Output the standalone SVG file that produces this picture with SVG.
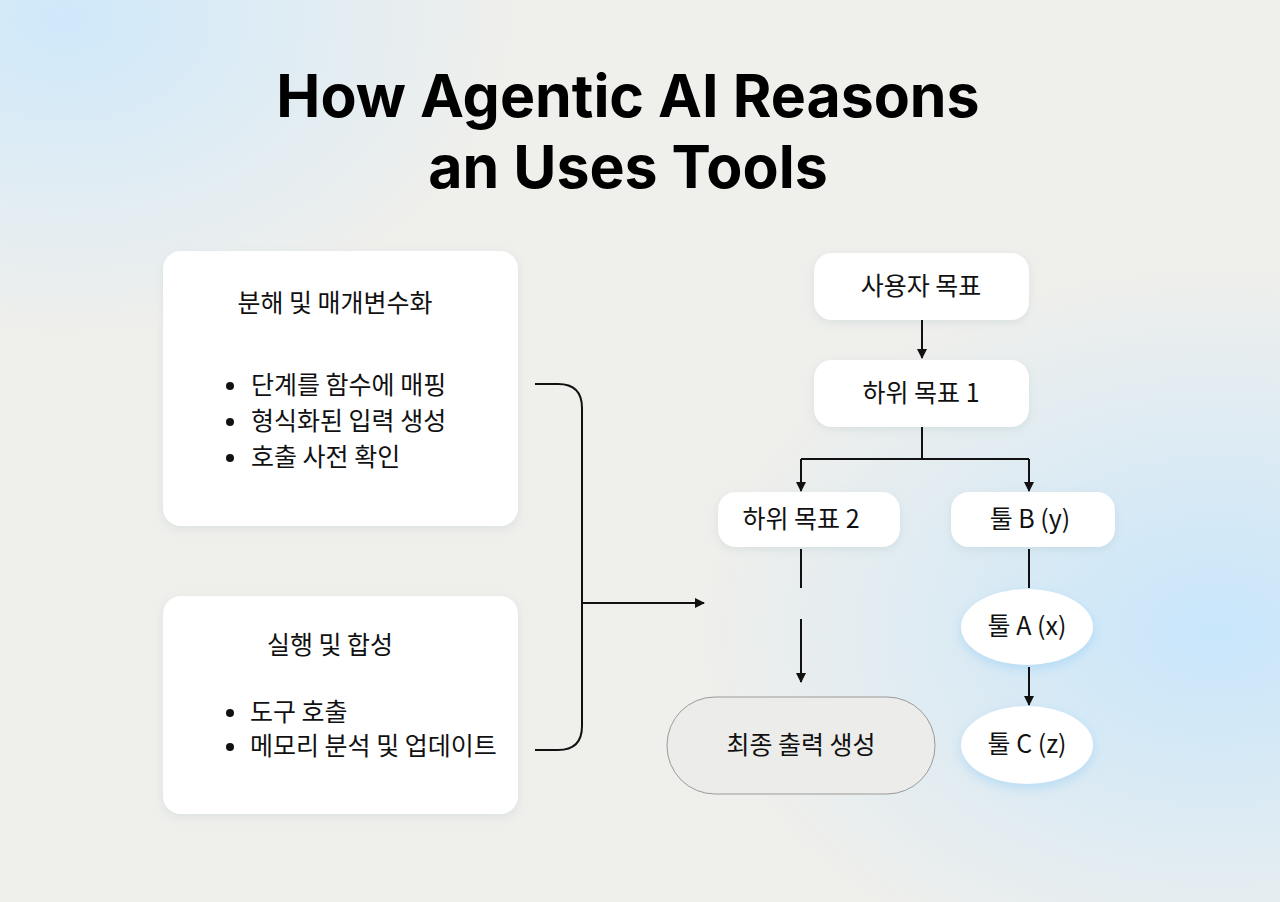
<svg xmlns="http://www.w3.org/2000/svg" width="1280" height="902" viewBox="0 0 1280 902">
<defs>
<radialGradient id="g1" cx="0.05" cy="0.02" r="0.35"><stop offset="0" stop-color="#cfe9fb"/><stop offset="1" stop-color="#cfe9fb" stop-opacity="0"/></radialGradient>
<radialGradient id="g2" cx="0.95" cy="0.7" r="0.4"><stop offset="0" stop-color="#c8e6fb"/><stop offset="1" stop-color="#c8e6fb" stop-opacity="0"/></radialGradient>
<marker id="ah" viewBox="0 0 10 10" refX="9" refY="5" markerWidth="10" markerHeight="10" markerUnits="userSpaceOnUse" orient="auto"><path d="M0,0 L10,5 L0,10 z" fill="#111"/></marker>
<filter id="sh" x="-20%" y="-20%" width="140%" height="150%"><feDropShadow dx="0" dy="3" stdDeviation="4" flood-color="#8aa" flood-opacity="0.2"/></filter>
<filter id="glow" x="-30%" y="-30%" width="160%" height="170%"><feDropShadow dx="0" dy="4" stdDeviation="6" flood-color="#9cd0f5" flood-opacity="0.6"/></filter>
</defs>
<style>
.t{font-family:"Noto Sans CJK KR","Noto Sans",sans-serif;font-size:25px;fill:#111;}
.c{text-anchor:middle;}
.box{fill:#fff;filter:url(#sh);}
.ell{fill:#fff;filter:url(#glow);}
.ln{fill:none;stroke:#111;stroke-width:2;}
</style>
<rect width="1280" height="902" fill="#efefec"/>
<rect width="1280" height="902" fill="url(#g1)"/>
<rect width="1280" height="902" fill="url(#g2)"/>
<text x="628" y="117" class="c" style="font-family:Inter,'Liberation Sans',sans-serif;font-weight:700;font-size:59px;fill:#000">How Agentic AI Reasons</text>
<text x="628" y="188" class="c" style="font-family:Inter,'Liberation Sans',sans-serif;font-weight:700;font-size:59px;fill:#000">an Uses Tools</text>
<g id="box1"><rect class="box" x="163" y="251" width="355" height="275" rx="18"/>
<text class="t c" x="335" y="312">분해 및 매개변수화</text>
<circle cx="230" cy="386" r="4" fill="#111"/><text class="t" x="251" y="394">단계를 함수에 매핑</text>
<circle cx="230" cy="422" r="4" fill="#111"/><text class="t" x="251" y="430">형식화된 입력 생성</text>
<circle cx="230" cy="458" r="4" fill="#111"/><text class="t" x="251" y="466">호출 사전 확인</text></g>
<g id="box2"><rect class="box" x="163" y="596" width="355" height="218" rx="18"/>
<text class="t c" x="330" y="654">실행 및 합성</text>
<circle cx="230" cy="713" r="4" fill="#111"/><text class="t" x="250" y="721">도구 호출</text>
<circle cx="230" cy="747" r="4" fill="#111"/><text class="t" x="250" y="755">메모리 분석 및 업데이트</text></g>
<g id="n_goal"><rect class="box" x="814" y="253" width="215" height="67" rx="18"/><text class="t c" x="921" y="295">사용자 목표</text></g>
<g id="n_sub1"><rect class="box" x="814" y="360" width="215" height="67" rx="18"/><text class="t c" x="921" y="402">하위 목표 1</text></g>
<g id="n_sub2"><rect class="box" x="718" y="492" width="182" height="55" rx="18"/><text class="t c" x="801" y="528">하위 목표 2</text></g>
<g id="n_toolB"><rect class="box" x="951" y="492" width="164" height="55" rx="18"/><text class="t c" x="1030" y="528">툴 B (y)</text></g>
<g id="n_final"><rect x="667" y="697" width="268" height="97" rx="48" fill="#ececea" stroke="#9a9a9a" stroke-width="1"/><text class="t c" x="801" y="754">최종 출력 생성</text></g>
<g id="n_toolA"><ellipse class="ell" cx="1027" cy="627" rx="66" ry="38"/><text class="t c" x="1027" y="635">툴 A (x)</text></g>
<g id="n_toolC"><ellipse class="ell" cx="1027" cy="745" rx="66" ry="39"/><text class="t c" x="1027" y="753">툴 C (z)</text></g>
<g id="connectors">
<path class="ln" d="M535,384 H558 Q582,384 582,408 V726 Q582,750 558,750 H535"/>
<path class="ln" d="M582,603 H704" marker-end="url(#ah)"/>
<path class="ln" d="M922,320 V358" marker-end="url(#ah)"/>
<path class="ln" d="M922,427 V459 M801,459 H1029"/>
<path class="ln" d="M801,459 V491" marker-end="url(#ah)"/>
<path class="ln" d="M1029,459 V491" marker-end="url(#ah)"/>
<path class="ln" d="M801,549 V588"/>
<path class="ln" d="M801,619 V682" marker-end="url(#ah)"/>
<path class="ln" d="M1029,549 V588"/>
<path class="ln" d="M1029,667 V705" marker-end="url(#ah)"/>
</g>
</svg>
